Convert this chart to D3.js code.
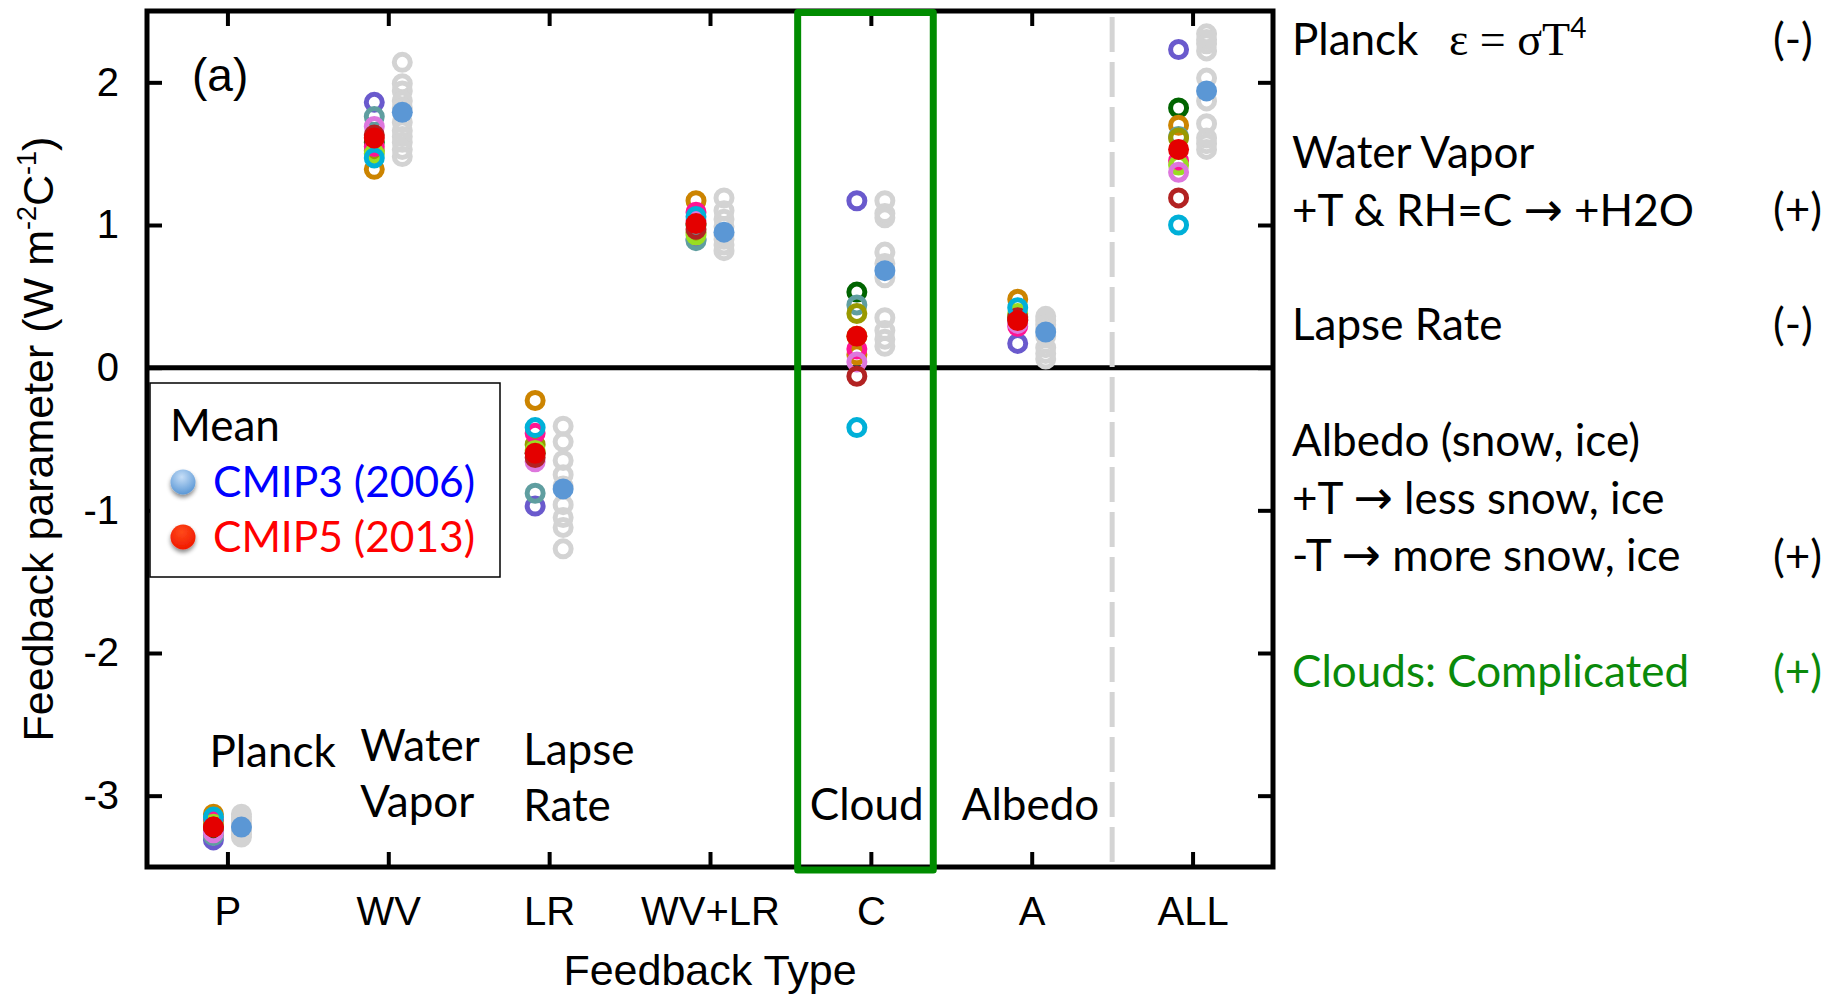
<!DOCTYPE html>
<html>
<head>
<meta charset="utf-8">
<script src="https://cdn.jsdelivr.net/npm/d3@7"></script>
<style>
  html, body { margin: 0; padding: 0; background: #fff; }
  svg { display: block; }
</style>
</head>
<body>
<svg id="chart" width="1844" height="995"></svg>
<script>
// ---- data ---------------------------------------------------------------
const categories = ["P", "WV", "LR", "WV+LR", "C", "A", "ALL"];
const yTicks = [-3, -2, -1, 0, 1, 2];

// CMIP5 models, one colour each; every array below follows this model order
const modelColors = ["#6a5acd", "#006400", "#cc8400", "#5f9ea0", "#999900",
                     "#ff1493", "#99dd22", "#dd77dd", "#b22222", "#00b0d8"];
const cmip5P    = [-3.31, -3.24, -3.13, -3.28, -3.18, -3.17, -3.20, -3.26, -3.22, -3.15];
const cmip5WV   = [1.86, 1.58, 1.39, 1.76, 1.52, 1.55, 1.50, 1.69, 1.63, 1.47];
const cmip5LR   = [-0.97, -0.60, -0.23, -0.88, -0.54, -0.46, -0.58, -0.66, -0.63, -0.42];
const cmip5WVLR = [0.90, 1.00, 1.17, 0.89, 0.95, 1.09, 0.93, 1.03, 0.97, 1.06];
const cmip5C    = [1.17, 0.53, 0.09, 0.44, 0.38, 0.13, 0.22, 0.04, -0.06, -0.42];
const cmip5A    = [0.17, 0.34, 0.48, 0.33, 0.36, 0.29, 0.38, 0.31, 0.35, 0.42];
const cmip5ALL  = [2.23, 1.82, 1.70, 1.62, 1.61, 1.45, 1.42, 1.37, 1.19, 1.00];

// CMIP3 models (grey)
const cmip3P    = [-3.13, -3.15, -3.17, -3.19, -3.21, -3.23, -3.25, -3.27, -3.29];
const cmip3WV   = [2.14, 1.99, 1.94, 1.87, 1.82, 1.72, 1.66, 1.62, 1.58, 1.53, 1.48];
const cmip3LR   = [-0.41, -0.52, -0.65, -0.75, -0.83, -0.96, -1.05, -1.12, -1.27];
const cmip3WVLR = [1.19, 1.10, 1.04, 0.99, 0.93, 0.90, 0.86, 0.82];
const cmip3C    = [1.17, 1.08, 1.05, 0.81, 0.73, 0.63, 0.35, 0.26, 0.20, 0.15];
const cmip3A    = [0.36, 0.33, 0.30, 0.27, 0.22, 0.14, 0.10, 0.06];
const cmip3ALL  = [2.34, 2.30, 2.27, 2.22, 2.03, 1.87, 1.71, 1.61, 1.57, 1.53];

// ensemble means per feedback type
const cmip3Mean = [-3.22, 1.79, -0.85, 0.95, 0.68, 0.25, 1.94];
const cmip5Mean = [-3.22, 1.61, -0.60, 1.01, 0.22, 0.33, 1.53];

// labels
const panelLabels = [["Planck"], ["Water", "Vapor"], ["Lapse", "Rate"], [], ["Cloud"], ["Albedo"], []];
const legendTitle = "Mean";
const legendEntries = ["CMIP3 (2006)", "CMIP5 (2013)"];
const noteLines = [
  ["Water Vapor", "+T & RH=C \u2192 +H2O"],
  ["Lapse Rate"],
  ["Albedo (snow, ice)", "+T \u2192 less snow, ice", "-T \u2192 more snow, ice"],
  ["Clouds: Complicated"]
];
const noteSigns = ["(-)", "(+)", "(-)", "(+)", "(+)"];

// ---- build tables ----------------------------------------------------------
const cmip5ByType = [cmip5P, cmip5WV, cmip5LR, cmip5WVLR, cmip5C, cmip5A, cmip5ALL];
const cmip3ByType = [cmip3P, cmip3WV, cmip3LR, cmip3WVLR, cmip3C, cmip3A, cmip3ALL];
const cmip5Points = cmip5ByType.flatMap((vals, i) =>
  vals.map((v, m) => ({ type: categories[i], value: v, color: modelColors[m] })));
const cmip3Points = cmip3ByType.flatMap((vals, i) =>
  vals.map(v => ({ type: categories[i], value: v })));

// ---- layout --------------------------------------------------------------
const SANS = "'Liberation Sans', Arial, Helvetica, sans-serif";
const HUMAN = "Lato, 'Open Sans', sans-serif";
const FS = 44;            // size of the explanatory text
const svg = d3.select("#chart");

const x = d3.scalePoint().domain(categories).range([147, 1273]).padding(0.5);
const y = d3.scaleLinear().domain([-3.5, 2.5]).range([867, 11]);
const step = x.step();
const [xl, xr] = x.range();
const [yb, yt] = y.range();
const off = 14;           // CMIP5 left of tick, CMIP3 right of tick

const defs = svg.append("defs");
const gb = defs.append("radialGradient").attr("id", "dotBlue")
  .attr("cx", "45%").attr("cy", "30%").attr("r", "70%");
gb.append("stop").attr("offset", "0%").attr("stop-color", "#c6def7");
gb.append("stop").attr("offset", "100%").attr("stop-color", "#5b98d6");
const gr = defs.append("radialGradient").attr("id", "dotRed")
  .attr("cx", "45%").attr("cy", "30%").attr("r", "70%");
gr.append("stop").attr("offset", "0%").attr("stop-color", "#ff4a1a");
gr.append("stop").attr("offset", "100%").attr("stop-color", "#f01800");
const sh = defs.append("filter").attr("id", "shadow")
  .attr("x", "-50%").attr("y", "-50%").attr("width", "200%").attr("height", "200%");
sh.append("feDropShadow").attr("dx", 0).attr("dy", 3).attr("stdDeviation", 2)
  .attr("flood-color", "#000").attr("flood-opacity", 0.45);

// zero line
svg.append("line")
  .attr("x1", xl).attr("x2", xr).attr("y1", y(0)).attr("y2", y(0))
  .attr("stroke", "#000").attr("stroke-width", 5);

// separator between the individual feedbacks and their sum
const sepX = (x("A") + x("ALL")) / 2;
svg.append("line")
  .attr("x1", sepX).attr("x2", sepX).attr("y1", yt + 6).attr("y2", yb)
  .attr("stroke", "#d4d4d4").attr("stroke-width", 5)
  .attr("stroke-dasharray", "35,10");

// CMIP3 models
svg.append("g").selectAll("circle").data(cmip3Points).join("circle")
  .attr("cx", d => x(d.type) + off).attr("cy", d => y(d.value)).attr("r", 8)
  .attr("fill", "none").attr("stroke", "#d3d3d3").attr("stroke-width", 5);

// CMIP5 models
svg.append("g").selectAll("circle").data(cmip5Points).join("circle")
  .attr("cx", d => x(d.type) - off).attr("cy", d => y(d.value)).attr("r", 8)
  .attr("fill", "none").attr("stroke", d => d.color).attr("stroke-width", 5);

// ensemble means
svg.append("g").selectAll("circle").data(cmip3Mean).join("circle")
  .attr("cx", (d, i) => x(categories[i]) + off).attr("cy", d => y(d)).attr("r", 10.5)
  .attr("fill", "#5b97d5");
svg.append("g").selectAll("circle").data(cmip5Mean).join("circle")
  .attr("cx", (d, i) => x(categories[i]) - off).attr("cy", d => y(d)).attr("r", 10.5)
  .attr("fill", "#e40000");

// axes: ticks point inward on all four sides
const tickStyle = g => {
  g.select(".domain").remove();
  g.selectAll(".tick line").attr("stroke", "#000").attr("stroke-width", 4);
  g.selectAll(".tick text").attr("fill", "#000").attr("font-family", SANS).attr("font-size", 40);
};
svg.append("g").attr("transform", `translate(${xl},0)`)
  .call(d3.axisLeft(y).tickValues(yTicks).tickFormat(d => String(d))
    .tickSizeInner(-15).tickSizeOuter(0).tickPadding(28))
  .call(tickStyle);
svg.append("g").attr("transform", `translate(${xr},0)`)
  .call(d3.axisRight(y).tickValues(yTicks).tickSizeInner(-15).tickSizeOuter(0).tickFormat(""))
  .call(tickStyle);
svg.append("g").attr("transform", `translate(0,${yb})`)
  .call(d3.axisBottom(x).tickSizeInner(-15).tickSizeOuter(0).tickPadding(30))
  .call(tickStyle);
svg.append("g").attr("transform", `translate(0,${yt})`)
  .call(d3.axisTop(x).tickSizeInner(-15).tickSizeOuter(0).tickFormat(""))
  .call(tickStyle);

// frame
svg.append("rect")
  .attr("x", xl).attr("y", yt).attr("width", xr - xl).attr("height", yb - yt)
  .attr("fill", "none").attr("stroke", "#000").attr("stroke-width", 5);

// axis titles
svg.append("text")
  .attr("x", (xl + xr) / 2).attr("y", 985)
  .attr("text-anchor", "middle").attr("font-family", SANS).attr("font-size", 43)
  .text("Feedback Type");

const yTitle = svg.append("text")
  .attr("transform", `translate(53,${(yt + yb) / 2}) rotate(-90)`)
  .attr("text-anchor", "middle").attr("font-family", SANS).attr("font-size", 43);
yTitle.append("tspan").text("Feedback parameter (W m");
yTitle.append("tspan").attr("dy", -17).attr("font-size", 27).text("-2");
yTitle.append("tspan").attr("dy", 17).text("C");
yTitle.append("tspan").attr("dy", -17).attr("font-size", 27).text("-1");
yTitle.append("tspan").attr("dy", 17).text(")");

// panel tag
svg.append("text").attr("x", 192).attr("y", 91)
  .attr("font-family", SANS).attr("font-size", 46).text("(a)");

// feedback names inside the plot
const labelPos = [
  { dx: -18, y: 767 }, { dx: -28, y: 761 }, { dx: -26, y: 765 }, null,
  { dx: -61, y: 820 }, { dx: -70, y: 820 }, null
];
panelLabels.forEach((lines, i) => {
  if (!lines.length) return;
  const p = labelPos[i];
  const t = svg.append("text").attr("font-family", HUMAN).attr("font-size", FS).attr("fill", "#000");
  lines.forEach((ln, k) => {
    t.append("tspan").attr("x", x(categories[i]) + p.dx).attr("y", p.y + k * 56).text(ln);
  });
});

// legend
const lg = svg.append("g");
lg.append("rect").attr("x", 150).attr("y", 383).attr("width", 350).attr("height", 194)
  .attr("fill", "#fff").attr("stroke", "#000").attr("stroke-width", 1.5);
lg.append("text").attr("x", 170).attr("y", 441)
  .attr("font-family", HUMAN).attr("font-size", FS).text(legendTitle);
const legendFill = ["url(#dotBlue)", "url(#dotRed)"];
const legendText = ["#0000ff", "#ff0000"];
legendEntries.forEach((name, k) => {
  const cy = 482 + k * 55;
  lg.append("circle").attr("cx", 183).attr("cy", cy).attr("r", 12.5)
    .attr("fill", legendFill[k]).attr("filter", "url(#shadow)");
  lg.append("text").attr("x", 213).attr("y", cy + 15)
    .attr("font-family", HUMAN).attr("font-size", 42.5).attr("fill", legendText[k]).text(name);
});

// cloud feedback highlight
svg.append("rect")
  .attr("x", x("C") - step * 0.455).attr("y", yt + 1.5)
  .attr("width", step * 0.843).attr("height", yb - yt + 1.5)
  .attr("fill", "none").attr("stroke", "#008c00").attr("stroke-width", 7)
  .attr("stroke-linejoin", "round");

// notes on the right
const noteX = 1292, signX = 1773;
const nt = svg.append("g").attr("font-family", HUMAN).attr("font-size", FS).attr("fill", "#000");
const first = nt.append("text").attr("x", noteX).attr("y", 55);
first.append("tspan").text("Planck");
first.append("tspan").attr("x", 1449).attr("font-family", "'Liberation Serif', 'Times New Roman', serif")
  .attr("font-size", 46).text("\u03b5 = \u03c3T");
first.append("tspan").attr("dy", -17).attr("font-size", 28).text("4");

const noteBase = [168, 340, 456, 687];
const noteColor = ["#000", "#000", "#000", "#0a8a0a"];
noteLines.forEach((lines, i) => {
  lines.forEach((ln, k) => {
    const t = nt.append("text").attr("x", noteX).attr("y", noteBase[i] + k * 57.5).attr("fill", noteColor[i]);
    ln.split("\u2192").forEach((part, j) => {
      if (j > 0) t.append("tspan").attr("font-family", "'DejaVu Sans', sans-serif")
        .attr("font-size", 47).text("\u2192");
      t.append("tspan").text(part);
    });
  });
});
const signY = [55, 225, 340, 572, 687];
const signColor = ["#000", "#000", "#000", "#000", "#0a8a0a"];
noteSigns.forEach((s, i) => {
  nt.append("text").attr("x", signX).attr("y", signY[i]).attr("fill", signColor[i]).text(s);
});
</script>
</body>
</html>
